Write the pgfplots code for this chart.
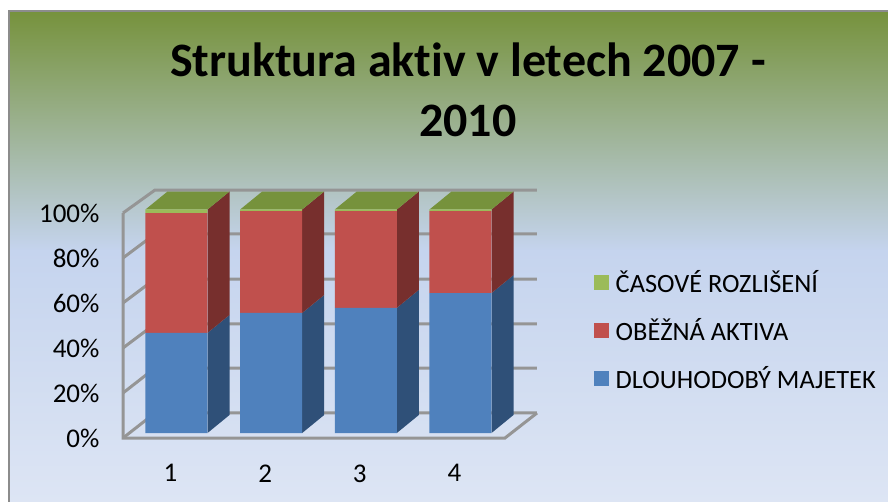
\documentclass[border=0pt]{standalone}
\usepackage{pgfplots}
\usepackage{fontspec}
\setmainfont[Ligatures=NoCommon]{Carlito}
\pgfplotsset{compat=1.18}
\definecolor{olivetop}{HTML}{76923C}
\definecolor{midblue}{HTML}{C5D4EE}
\definecolor{lowblue}{HTML}{DDE5F4}
\definecolor{wallgray}{HTML}{959595}
\definecolor{barblue}{HTML}{4F81BD}
\definecolor{barred}{HTML}{C0504D}
\definecolor{bargreen}{HTML}{9BBB59}
\definecolor{sideblue}{HTML}{2F5078}
\definecolor{sidered}{HTML}{772F2D}
\pgfplotsset{
  page/.style={
    at={(0,0)},anchor=south west,
    scale only axis,width=888pt,height=502pt,
    xmin=-0.8644,xmax=8.516,ymin=-30.87,ymax=193.74,
    clip=false
  },
  wall/.style={wallgray,line width=3pt,no marks},
  side/.style={draw=none,no marks}
}
\begin{document}
\begin{tikzpicture}
\path[use as bounding box] (0,0) rectangle (888pt,502pt);
% background, walls, depth faces
\begin{axis}[page,hide axis]
  \shade[top color=olivetop,bottom color=midblue] (axis cs:-0.7741,188.8) rectangle (axis cs:8.516,81.5);
  \shade[top color=midblue,bottom color=lowblue] (axis cs:-0.7741,81.6) rectangle (axis cs:8.516,-30.87);
  \addplot[gray!90,line width=2pt,no marks] coordinates {(-0.7741,-30.87) (-0.7741,188.8) (8.516,188.8)};

  % back wall and side wall lines
  \addplot[wall] coordinates {(0.4349,98.43) (0.4349,-2.24) (4.470,-2.24) (4.808,8.95)};
  \addplot[wall] coordinates {(0.4349,98.43) (0.7724,108.7) (4.808,108.7)};
  \addplot[wall] coordinates {(0.4349,78.3) (0.7724,89.04) (4.808,89.04)};
  \addplot[wall] coordinates {(0.4349,58.17) (0.7724,68.9) (4.808,68.9)};
  \addplot[wall] coordinates {(0.4349,38.03) (0.7724,48.77) (4.808,48.77)};
  \addplot[wall] coordinates {(0.4349,17.9) (0.7724,29.08) (4.808,29.08)};
  \addplot[wall] coordinates {(0.4349,-2.24) (0.7724,8.95) (4.808,8.95)};

  % right faces, blue part
  \addplot[side,fill=sideblue] coordinates {(1.3275,0) (1.56,8.05) (1.56,52.8) (1.3275,44.8)} -- cycle;
  \addplot[side,fill=sideblue] coordinates {(2.3275,0) (2.56,8.05) (2.56,61.75) (2.3275,53.7)} -- cycle;
  \addplot[side,fill=sideblue] coordinates {(3.3275,0) (3.56,8.05) (3.56,64.05) (3.3275,56)} -- cycle;
  \addplot[side,fill=sideblue] coordinates {(4.3275,0) (4.56,8.05) (4.56,70.65) (4.3275,62.6)} -- cycle;
  % right faces, red part
  \addplot[side,fill=sidered] coordinates {(1.3275,44.8) (1.56,52.8) (1.56,108.05) (1.3275,100)} -- cycle;
  \addplot[side,fill=sidered] coordinates {(2.3275,53.7) (2.56,61.75) (2.56,108.05) (2.3275,100)} -- cycle;
  \addplot[side,fill=sidered] coordinates {(3.3275,56) (3.56,64.05) (3.56,108.05) (3.3275,100)} -- cycle;
  \addplot[side,fill=sidered] coordinates {(4.3275,62.6) (4.56,70.65) (4.56,108.05) (4.3275,100)} -- cycle;
  % top faces
  \addplot[side,fill=olivetop] coordinates {(0.6725,100) (1.3275,100) (1.56,108.05) (0.905,108.05)} -- cycle;
  \addplot[side,fill=olivetop] coordinates {(1.6725,100) (2.3275,100) (2.56,108.05) (1.905,108.05)} -- cycle;
  \addplot[side,fill=olivetop] coordinates {(2.6725,100) (3.3275,100) (3.56,108.05) (2.905,108.05)} -- cycle;
  \addplot[side,fill=olivetop] coordinates {(3.6725,100) (4.3275,100) (4.56,108.05) (3.905,108.05)} -- cycle;
\end{axis}
% front faces, labels, legend
\begin{axis}[page,
  ybar stacked,bar width=62pt,
  axis line style={draw=none},
  tick style={draw=none},
  xtick={1,2,3,4},
  xticklabel style={yshift=41pt,xshift=-6pt},
  ytick={-2.24,17.9,38.03,58.17,78.3,98.43},
  yticklabels={0\%,20\%,40\%,60\%,80\%,100\%},
  yticklabel style={xshift=103pt,yshift=-0.5pt},
  tick label style={font=\fontsize{27}{30}\selectfont},
  /pgf/number format/assume math mode=true,
  title={Struktura aktiv v letech 2007 -\\2010},
  title style={at={(axis description cs:0.527,0.708)},anchor=south,align=center,
    font=\fontsize{48}{60}\selectfont\bfseries},
  reverse legend,
  legend style={at={(axis cs:5.41,45.9)},anchor=west,draw=none,fill=none,
    font=\fontsize{26.4}{30}\selectfont,row sep=20.5pt,inner sep=0pt,
    /tikz/every odd column/.append style={column sep=4.5pt}},
  legend cell align=left,
  legend image code/.code={\fill[#1,draw=none] (0pt,-7.5pt) rectangle (15pt,7.5pt);}
]
  \addplot[fill=barblue,draw=none] coordinates {(1,44.8) (2,53.7) (3,56) (4,62.6)};
  \addplot[fill=barred,draw=none] coordinates {(1,53.6) (2,45.6) (3,43.3) (4,36.7)};
  \addplot[fill=bargreen,draw=none] coordinates {(1,1.6) (2,0.7) (3,0.7) (4,0.7)};
  \legend{DLOUHODOBÝ MAJETEK,OBĚŽNÁ AKTIVA,ČASOVÉ ROZLIŠENÍ}
\end{axis}
\end{tikzpicture}
\end{document}
